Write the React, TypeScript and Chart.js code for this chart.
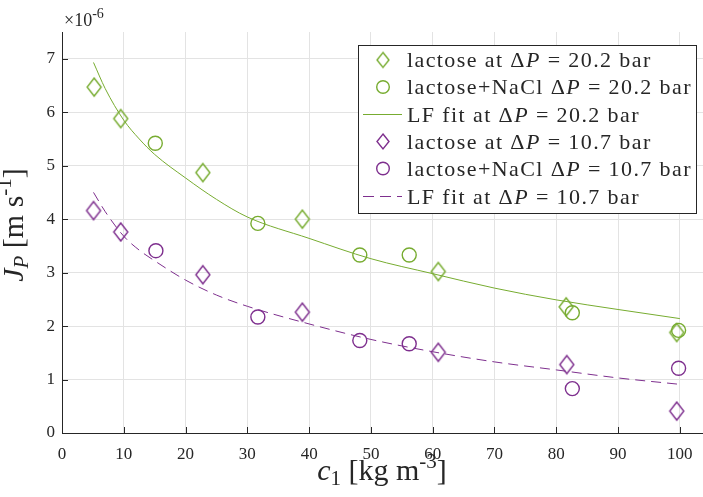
import React, { useEffect, useRef } from 'react';
import { Chart, registerables } from 'chart.js';

Chart.register(...registerables);

const GREEN = '#77AC30';
const PURPLE = '#7E2F8E';
const INK = '#262626';
const GRID = '#e3e3e3';
const FONT = '"Liberation Serif", "Times New Roman", serif';

// c1 [kg m^-3] and J_P [×1e-6 m s^-1]
const lac20X = [5.2, 9.5, 22.8, 38.9, 60.9, 81.6, 99.5];
const lac20Y = [6.47, 5.88, 4.87, 4.0, 3.02, 2.36, 1.88];
const nacl20X = [15.1, 31.7, 48.2, 56.2, 82.6, 99.8];
const nacl20Y = [5.42, 3.92, 3.33, 3.33, 2.25, 1.92];
const lac10X = [5.1, 9.5, 22.8, 38.9, 60.9, 81.7, 99.5];
const lac10Y = [4.16, 3.76, 2.96, 2.26, 1.51, 1.28, 0.41];
const nacl10X = [15.2, 31.7, 48.2, 56.2, 82.6, 99.8];
const nacl10Y = [3.41, 2.17, 1.73, 1.67, 0.83, 1.21];
const fitX = [5.1, 7, 10, 12.5, 15, 20, 25, 30, 40, 50, 60, 70, 80, 90, 100];
const fit20Y = [6.93, 6.44, 5.85, 5.5, 5.21, 4.77, 4.37, 4.04, 3.64, 3.26, 2.98, 2.71, 2.49, 2.31, 2.14];
const fit10Y = [4.5, 4.14, 3.68, 3.42, 3.22, 2.86, 2.58, 2.37, 2.04, 1.75, 1.52, 1.33, 1.18, 1.03, 0.91];

const xTickValues = [0, 10, 20, 30, 40, 50, 60, 70, 80, 90, 100];
const yTickValues = [0, 1, 2, 3, 4, 5, 6, 7];

const seriesLabels = [
  'lactose at ΔP = 20.2 bar',
  'lactose+NaCl ΔP = 20.2 bar',
  'LF fit at ΔP = 20.2 bar',
  'lactose at ΔP = 10.7 bar',
  'lactose+NaCl ΔP = 10.7 bar',
  'LF fit at ΔP = 10.7 bar',
];
const xTitle = ['c', '1', ' [kg m', '-3', ']'];
const yTitle = ['J', 'P', ' [m s', '-1', ']'];
const multiplier = ['×10', '-6'];

const pts = (xs: number[], ys: number[]) => xs.map((x, i) => ({ x, y: ys[i] }));

function makeDiamond(color: string, hw: number, hh: number) {
  const c = document.createElement('canvas');
  c.width = hw * 2 + 4;
  c.height = hh * 2 + 4;
  const ctx = c.getContext('2d')!;
  const cx = c.width / 2;
  const cy = c.height / 2;
  ctx.strokeStyle = color;
  ctx.lineWidth = 1.4;
  ctx.beginPath();
  ctx.moveTo(cx, cy - hh);
  ctx.lineTo(cx + hw, cy);
  ctx.lineTo(cx, cy + hh);
  ctx.lineTo(cx - hw, cy);
  ctx.closePath();
  ctx.stroke();
  return c;
}

type Seg = { t: string; style?: 'n' | 'i'; size: number; dy?: number };

function drawSegs(ctx: CanvasRenderingContext2D, segs: Seg[], x: number, y: number, align: 'left' | 'center') {
  let total = 0;
  const widths = segs.map((s) => {
    ctx.font = `${s.style === 'i' ? 'italic ' : ''}${s.size}px ${FONT}`;
    const w = ctx.measureText(s.t).width;
    total += w;
    return w;
  });
  let cx = align === 'center' ? x - total / 2 : x;
  ctx.textAlign = 'left';
  ctx.textBaseline = 'alphabetic';
  segs.forEach((s, i) => {
    ctx.font = `${s.style === 'i' ? 'italic ' : ''}${s.size}px ${FONT}`;
    ctx.fillText(s.t, cx, y + (s.dy || 0));
    cx += widths[i];
  });
}

function labelSegs(label: string, size: number): Seg[] {
  const [a, b] = label.split('ΔP');
  return [
    { t: a + 'Δ', size },
    { t: 'P', style: 'i', size },
    { t: b, size },
  ];
}

export default function App() {
  const ref = useRef<HTMLCanvasElement>(null);

  useEffect(() => {
    document.body.style.margin = '0';
    const canvas = ref.current!;
    const dGreen = makeDiamond(GREEN, 7, 9);
    const dPurple = makeDiamond(PURPLE, 7, 9);
    const lgGreen = makeDiamond(GREEN, 6, 7.5);
    const lgPurple = makeDiamond(PURPLE, 6, 7.5);

    const overlay = {
      id: 'overlay',
      afterDraw(chart: any) {
        const ctx: CanvasRenderingContext2D = chart.ctx;
        const xs = chart.scales.x;
        const ys = chart.scales.y;
        const area = chart.chartArea;
        ctx.save();
        // inward tick marks
        ctx.strokeStyle = INK;
        ctx.lineWidth = 1;
        ctx.beginPath();
        xTickValues.forEach((v) => {
          const px = Math.round(xs.getPixelForValue(v)) + 0.5;
          ctx.moveTo(px, area.bottom);
          ctx.lineTo(px, area.bottom - 6);
        });
        yTickValues.forEach((v) => {
          const py = Math.round(ys.getPixelForValue(v)) + 0.5;
          ctx.moveTo(area.left, py);
          ctx.lineTo(area.left + 6, py);
        });
        ctx.stroke();

        ctx.fillStyle = INK;
        // exponent label
        drawSegs(
          ctx,
          [
            { t: multiplier[0], size: 18 },
            { t: multiplier[1], size: 14, dy: -8 },
          ],
          area.left + 2,
          area.top - 6,
          'left'
        );
        // x title
        drawSegs(
          ctx,
          [
            { t: xTitle[0], style: 'i', size: 30 },
            { t: xTitle[1], size: 21, dy: 5 },
            { t: xTitle[2], size: 30 },
            { t: xTitle[3], size: 21, dy: -12 },
            { t: xTitle[4], size: 30 },
          ],
          382,
          480,
          'center'
        );
        // y title
        ctx.save();
        ctx.translate(23, 225);
        ctx.rotate(-Math.PI / 2);
        drawSegs(
          ctx,
          [
            { t: yTitle[0], style: 'i', size: 30 },
            { t: yTitle[1], style: 'i', size: 21, dy: 5 },
            { t: yTitle[2], size: 30 },
            { t: yTitle[3], size: 21, dy: -12 },
            { t: yTitle[4], size: 30 },
          ],
          0,
          0,
          'center'
        );
        ctx.restore();

        // legend
        const bx = 358.5, by = 45.5, bw = 338, bh = 168;
        ctx.fillStyle = '#ffffff';
        ctx.fillRect(bx, by, bw, bh);
        ctx.strokeStyle = INK;
        ctx.lineWidth = 1;
        ctx.strokeRect(bx, by, bw, bh);
        const rowY = [60, 87, 114.5, 141.5, 168.5, 196.5];
        const markers = ['d', 'o', 'l', 'd', 'o', 'l'];
        const colors = [GREEN, GREEN, GREEN, PURPLE, PURPLE, PURPLE];
        rowY.forEach((ry, i) => {
          const col = colors[i];
          if (markers[i] === 'd') {
            const img = col === GREEN ? lgGreen : lgPurple;
            ctx.drawImage(img, 383 - img.width / 2, ry - img.height / 2);
          } else if (markers[i] === 'o') {
            ctx.strokeStyle = col;
            ctx.lineWidth = 1.4;
            ctx.beginPath();
            ctx.arc(383, ry, 6.3, 0, Math.PI * 2);
            ctx.stroke();
          } else {
            ctx.strokeStyle = col;
            ctx.lineWidth = 1;
            ctx.setLineDash(i === 5 ? [11, 6] : []);
            ctx.beginPath();
            ctx.moveTo(363, ry);
            ctx.lineTo(402, ry);
            ctx.stroke();
            ctx.setLineDash([]);
          }
          ctx.fillStyle = INK;
          (ctx as any).letterSpacing = '1.4px';
          drawSegs(ctx, labelSegs(seriesLabels[i], 22), 407, ry + 7, 'left');
          (ctx as any).letterSpacing = '0px';
        });
        ctx.restore();
      },
    };

    const tickFilter = (scale: any) => {
      scale.ticks = scale.ticks.filter((t: any) => Math.abs(t.value - Math.round(t.value)) < 1e-6 && (scale.axis === 'y' || Math.round(t.value) % 10 === 0));
    };

    const chart = new Chart(canvas, {
      type: 'scatter',
      data: {
        datasets: [
          {
            label: seriesLabels[0],
            data: pts(lac20X, lac20Y),
            pointStyle: dGreen as any,
            borderColor: GREEN,
            backgroundColor: 'transparent',
          },
          {
            label: seriesLabels[1],
            data: pts(nacl20X, nacl20Y),
            pointStyle: 'circle',
            pointRadius: 7,
            pointBorderWidth: 1.4,
            borderColor: GREEN,
            backgroundColor: 'transparent',
          },
          {
            label: seriesLabels[2],
            data: pts(fitX, fit20Y),
            showLine: true,
            pointRadius: 0,
            borderColor: GREEN,
            borderWidth: 1,
            cubicInterpolationMode: 'monotone',
            fill: false,
          } as any,
          {
            label: seriesLabels[3],
            data: pts(lac10X, lac10Y),
            pointStyle: dPurple as any,
            borderColor: PURPLE,
            backgroundColor: 'transparent',
          },
          {
            label: seriesLabels[4],
            data: pts(nacl10X, nacl10Y),
            pointStyle: 'circle',
            pointRadius: 7,
            pointBorderWidth: 1.4,
            borderColor: PURPLE,
            backgroundColor: 'transparent',
          },
          {
            label: seriesLabels[5],
            data: pts(fitX, fit10Y),
            showLine: true,
            pointRadius: 0,
            borderColor: PURPLE,
            borderWidth: 1,
            borderDash: [10, 6],
            cubicInterpolationMode: 'monotone',
            fill: false,
          } as any,
        ],
      },
      options: {
        responsive: false,
        animation: false,
        devicePixelRatio: 1,
        layout: { autoPadding: false, padding: { top: 32, right: 0, left: 0, bottom: 0 } },
        plugins: { legend: { display: false }, tooltip: { enabled: false } },
        scales: {
          x: {
            type: 'linear',
            min: 0,
            max: 103.75,
            afterFit: (s: any) => {
              s.height = 64;
              s.paddingLeft = 0;
              s.paddingRight = 0;
            },
            afterBuildTicks: tickFilter,
            ticks: {
              stepSize: 10,
              autoSkip: false,
              includeBounds: false,
              color: INK,
              font: { family: FONT, size: 17 },
              padding: 11,
              maxRotation: 0,
            } as any,
            grid: { color: GRID, drawTicks: false },
            border: { display: true, color: INK, width: 1 },
          },
          y: {
            type: 'linear',
            min: 0,
            max: 7.5,
            afterFit: (s: any) => {
              s.width = 62;
              s.paddingTop = 0;
              s.paddingBottom = 0;
            },
            afterBuildTicks: tickFilter,
            ticks: {
              stepSize: 1,
              autoSkip: false,
              includeBounds: false,
              color: INK,
              font: { family: FONT, size: 17 },
              padding: 7,
            } as any,
            grid: { color: GRID, drawTicks: false },
            border: { display: true, color: INK, width: 1 },
          },
        },
      },
      plugins: [overlay],
    });
    return () => chart.destroy();
  }, []);

  return (
    <div style={{ position: 'absolute', left: 0, top: 0, width: 703, height: 497 }}>
      <canvas ref={ref} width={703} height={497} style={{ width: 703, height: 497 }} />
    </div>
  );
}
